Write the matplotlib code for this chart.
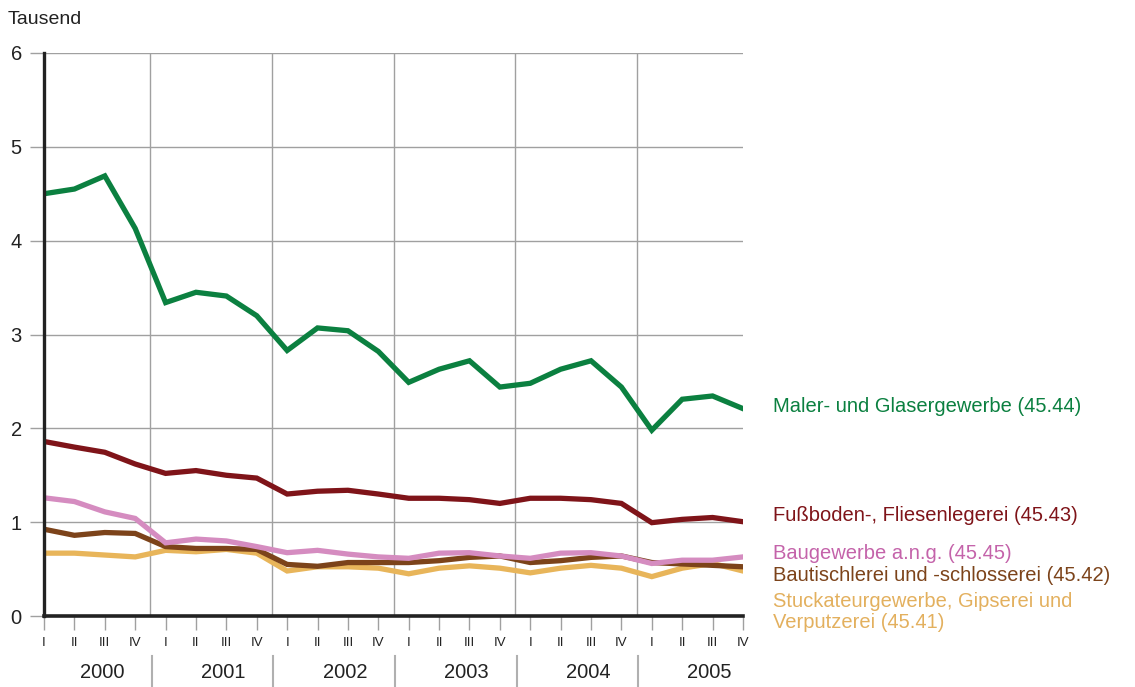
import numpy as np
import matplotlib.pyplot as plt

plt.rcParams['font.family'] = ['Liberation Sans', 'DejaVu Sans']

years = ['2000', '2001', '2002', '2003', '2004', '2005']
quarters = ['I', 'II', 'III', 'IV']

# Tausend, one value per quarter 2000 I ... 2005 IV
maler = [4.50, 4.55, 4.69, 4.13, 3.34, 3.45, 3.41, 3.20,
         2.83, 3.07, 3.04, 2.82, 2.49, 2.63, 2.72, 2.44,
         2.48, 2.63, 2.72, 2.44, 1.98, 2.31, 2.345, 2.21]
fussboden = [1.86, 1.80, 1.745, 1.62, 1.52, 1.55, 1.50, 1.47,
             1.30, 1.33, 1.34, 1.30, 1.255, 1.255, 1.24, 1.20,
             1.255, 1.255, 1.24, 1.20, 0.995, 1.03, 1.05, 1.005]
baugewerbe = [1.26, 1.22, 1.11, 1.04, 0.78, 0.82, 0.80, 0.74,
              0.675, 0.70, 0.66, 0.63, 0.615, 0.67, 0.675, 0.64,
              0.615, 0.67, 0.675, 0.64, 0.56, 0.595, 0.595, 0.63]
bautischlerei = [0.925, 0.86, 0.89, 0.88, 0.74, 0.72, 0.72, 0.71,
                 0.55, 0.53, 0.57, 0.57, 0.57, 0.59, 0.625, 0.64,
                 0.57, 0.59, 0.625, 0.64, 0.57, 0.555, 0.54, 0.525]
stuckateur = [0.67, 0.67, 0.65, 0.63, 0.70, 0.685, 0.71, 0.67,
              0.48, 0.525, 0.525, 0.51, 0.45, 0.51, 0.535, 0.51,
              0.46, 0.51, 0.54, 0.51, 0.42, 0.51, 0.56, 0.48]

series = [
    (maler, '#0b8040', '#0b8040', 'Maler- und Glasergewerbe (45.44)', 2.23),
    (fussboden, '#7f1419', '#7f1419', 'Fußboden-, Fliesenlegerei (45.43)', 1.07),
    (baugewerbe, '#d58cc0', '#c463aa', 'Baugewerbe a.n.g. (45.45)', 0.67),
    (bautischlerei, '#7c431a', '#7c431a', 'Bautischlerei und -schlosserei (45.42)', 0.43),
    (stuckateur, '#e8b55a', '#e3b05e', 'Stuckateurgewerbe, Gipserei und\nVerputzerei (45.41)', 0.045),
]

n = len(maler)
x = np.arange(n)

fig = plt.figure(figsize=(11.35, 6.87), dpi=100)
ax = fig.add_axes([0.0388, 0.1033, 0.6158, 0.8196])

# grid
for yv in range(1, 7):
    ax.axhline(yv, color='#a0a0a0', lw=1.0, zorder=1)
for i in range(1, len(years)):
    ax.axvline(i * 4 - 0.5, color='#a0a0a0', lw=1.0, zorder=1)

# lines, draw bottom ones first
for vals, col, tcol, label, ly in reversed(series):
    ax.plot(x, vals, color=col, lw=3.8, solid_joinstyle='miter', zorder=3)
for vals, col, tcol, label, ly in series:
    ax.text(24.0, ly, label, color=tcol, fontsize=14.5, va='center', ha='left',
            linespacing=1.15, clip_on=False)

ax.set_xlim(0, n - 1)
ax.set_ylim(0, 6)

for s in ['top', 'right']:
    ax.spines[s].set_visible(False)
ax.spines['left'].set_linewidth(2.4)
ax.spines['left'].set_color('#222222')
ax.spines['bottom'].set_linewidth(2.6)
ax.spines['bottom'].set_color('#222222')
ax.spines['left'].set_zorder(4)
ax.spines['bottom'].set_zorder(4)

ax.set_yticks(range(0, 7))
ax.set_yticklabels([str(v) for v in range(0, 7)], fontsize=14.5, color='#222222')
ax.tick_params(axis='y', length=10, width=1.0, color='#a0a0a0', pad=6)

ax.set_xticks(x)
ax.set_xticklabels(quarters * len(years), fontsize=9.5, color='#222222')
ax.tick_params(axis='x', length=10, width=1.0, color='#a0a0a0', pad=5)

# year labels and separators below the quarters
for i, yr in enumerate(years):
    ax.text(i * 4 + 1.9, -0.60, yr, fontsize=14.5, ha='center', va='center',
            color='#222222', clip_on=False)
for i in range(1, len(years)):
    ax.plot([i * 4 - 0.45, i * 4 - 0.45], [-0.43, -0.76], color='#b0b0b0',
            lw=1.5, clip_on=False)

fig.text(0.007, 0.971, 'Tausend', fontsize=14, color='#222222', va='center', ha='left')

fig.savefig('out.png', dpi=100)
